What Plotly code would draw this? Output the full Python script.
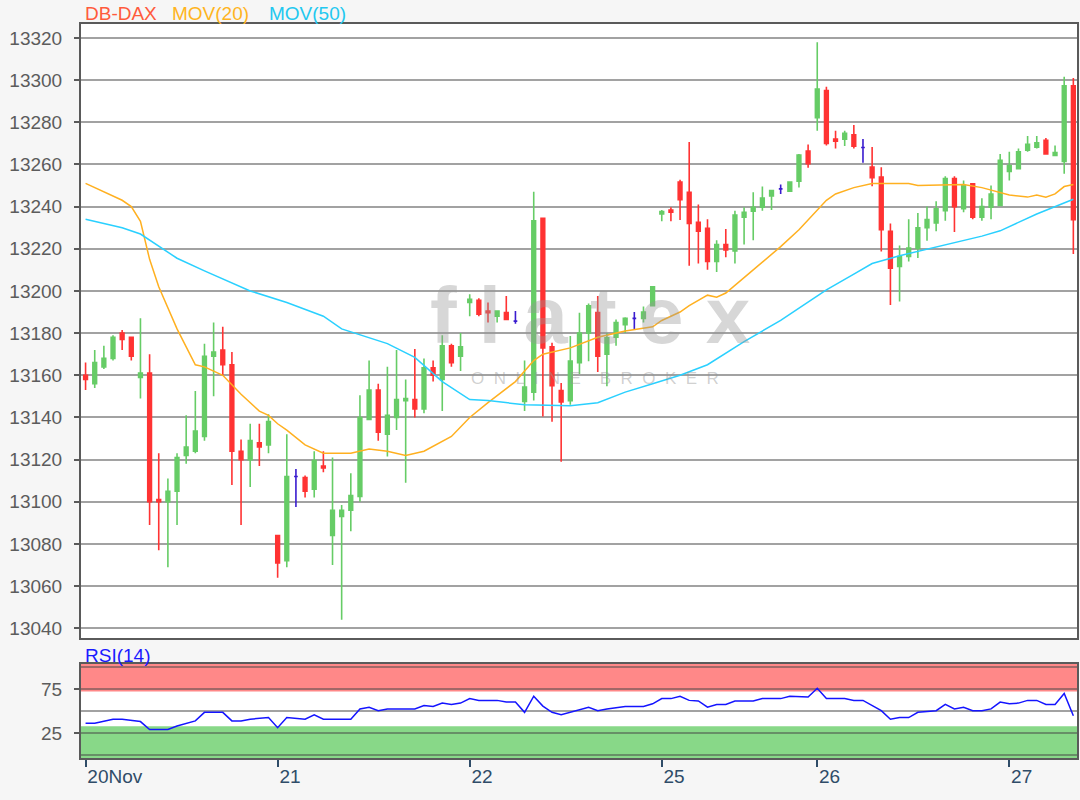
import plotly.graph_objects as go

# ---------------- data ----------------
bar_index = list(range(109))

opens = [13160, 13156, 13164, 13168, 13180, 13178, 13159, 13161, 13101, 13100,
         13105, 13122, 13124, 13131, 13169, 13172, 13165, 13124, 13120, 13128,
         13127, 13084, 13072, 13112, 13111.5, 13106, 13117, 13084, 13093, 13096,
         13102.5, 13139, 13153, 13132, 13140, 13148, 13148.5, 13144, 13163.5, 13158,
         13174, 13169, 13194.5, 13195.6, 13190.5, 13188, 13189.7, 13185.7, 13147.6, 13152,
         13234.4, 13173.5, 13152.7, 13148, 13166, 13180, 13189.7, 13170, 13178, 13184,
         13187, 13187, 13193, 13236.5, 13238.4, 13251.6, 13246.8, 13232.5, 13229.7, 13214,
         13222, 13219, 13235, 13237.8, 13239.7, 13245, 13248.4, 13247.3, 13252, 13266.3,
         13282.2, 13295, 13272, 13272, 13274, 13268, 13258.7, 13254, 13228.3, 13211.6,
         13216.3, 13220.3, 13230, 13232.2, 13238, 13253.3, 13239, 13250.8, 13235, 13239.7,
         13240.5, 13256.7, 13258, 13266.7, 13268.2, 13271.4, 13264.3, 13261.4, 13297.3]
highs = [13166, 13172, 13174, 13179, 13181.5, 13178, 13187, 13170, 13123, 13111,
         13123, 13141, 13152.5, 13175, 13185, 13183, 13171, 13129.5, 13137, 13137,
         13141.5, 13084, 13132, 13115.5, 13112.5, 13124, 13124, 13121, 13098.5, 13113.5,
         13150.5, 13167, 13156, 13164, 13172, 13158, 13172.5, 13168, 13167, 13179,
         13175, 13180, 13198.4, 13196.5, 13194.5, 13190.5, 13197.6, 13190.5, 13167, 13247,
         13234.4, 13175.4, 13156.3, 13178.6, 13189.7, 13194, 13197.6, 13180, 13186.5, 13187.5,
         13190, 13192.6, 13202, 13238.4, 13239.7, 13252.7, 13270.6, 13241, 13234, 13224,
         13229.4, 13238, 13239.7, 13246.8, 13249.5, 13247.6, 13250.5, 13252, 13265, 13269.5,
         13318, 13296.8, 13276, 13276, 13278.7, 13272, 13268.3, 13258.7, 13232, 13221.6,
         13234, 13237, 13240, 13242.5, 13254.4, 13254.4, 13252.4, 13250.8, 13244, 13250,
         13265, 13266, 13267.5, 13273.5, 13273.5, 13272.5, 13269, 13301.6, 13301]
lows = [13153, 13154, 13163, 13167, 13172, 13167, 13149, 13089, 13077, 13069,
        13089, 13118, 13123, 13129, 13150, 13160, 13108, 13089, 13107, 13117,
        13123, 13064, 13069, 13097.5, 13102, 13102, 13114, 13070, 13044, 13086,
        13100, 13139, 13129, 13121.5, 13134, 13109, 13140, 13142, 13157, 13143,
        13164, 13162, 13188, 13188, 13185, 13185, 13186.5, 13184.4, 13143, 13148,
        13140.5, 13138, 13119, 13146, 13160.6, 13166.7, 13161.6, 13154.8, 13174, 13180,
        13181.5, 13185, 13193, 13233, 13233, 13233.7, 13212, 13213, 13210, 13209,
        13216, 13213, 13222, 13224, 13238, 13238.4, 13246, 13247, 13249, 13258.4,
        13276, 13269, 13267.6, 13268.7, 13267.6, 13260.8, 13249.7, 13218.7, 13193.3, 13195,
        13214, 13215.6, 13223.8, 13228.3, 13233.3, 13228, 13237.3, 13234, 13233.3, 13234,
        13240.5, 13252.4, 13257.6, 13266, 13267.5, 13264.6, 13264.3, 13255.6, 13217.5]
closes = [13158, 13166, 13168, 13178, 13177, 13169, 13161, 13100, 13100, 13105,
          13121, 13126, 13133.5, 13169, 13171, 13165, 13124, 13120, 13129, 13126,
          13138, 13071, 13112, 13112, 13105, 13119.5, 13116, 13096, 13096, 13103,
          13140, 13153, 13133, 13141, 13148.5, 13149, 13144, 13163.5, 13160, 13174,
          13166, 13173.5, 13196, 13189, 13189.7, 13190.5, 13186.5, 13185.7, 13154.4, 13233.3,
          13173, 13155, 13147.3, 13166.7, 13180, 13193, 13169, 13177.8, 13185, 13187,
          13187, 13190, 13202, 13237.6, 13237.3, 13243.3, 13232, 13228.3, 13214, 13222,
          13219.4, 13236, 13237.3, 13239.7, 13244, 13247.6, 13248.4, 13251.6, 13264.4, 13260.3,
          13295.7, 13270, 13271, 13274.8, 13268.7, 13268, 13253.7, 13229, 13210.8, 13216.3,
          13220.3, 13230, 13233.8, 13239, 13253.3, 13240, 13250, 13235, 13240, 13246,
          13262, 13259.5, 13266, 13269.5, 13270.3, 13265, 13265.6, 13297.3, 13233.8]

ma20_x = [0, 4, 5, 6, 7, 8, 10, 12, 13, 15, 17, 19, 20, 21, 22, 24, 26, 29, 31, 33,
          35, 37, 40, 42, 44, 47, 49, 50, 53, 56, 59, 62, 63, 65, 66, 68, 69, 70, 73, 76,
          78, 81, 82, 84, 86, 90, 91, 96, 98, 101, 103, 104, 105, 106, 107, 108]
ma20_y = [13251, 13243, 13240, 13233, 13215, 13202, 13182, 13165, 13164, 13160,
          13151, 13143, 13141, 13137, 13134, 13127, 13123, 13123, 13125, 13124,
          13122, 13124, 13131, 13140, 13147, 13157, 13167, 13170, 13173, 13178,
          13181, 13183, 13186, 13190, 13193, 13198, 13197, 13199, 13210, 13221,
          13229, 13243, 13246, 13249, 13251, 13251, 13250, 13250.5, 13249, 13245.5,
          13244.5, 13245.5, 13244.5, 13246, 13249.5, 13250.5]

ma50_x = [0, 4, 6, 10, 13, 18, 22, 26, 28, 33, 36, 39, 42, 44, 48, 53, 56, 59, 62,
          65, 68, 72, 76, 81, 84, 86, 89, 94, 98, 100, 104, 108]
ma50_y = [13234, 13230, 13227, 13215.5, 13209.5, 13200, 13194.5, 13188, 13182,
          13175, 13168.5, 13157, 13148.5, 13148, 13146, 13145.5, 13147, 13152, 13156,
          13160, 13165, 13176, 13186, 13200.5, 13208, 13213, 13216.7, 13222, 13226,
          13228.5, 13236.5, 13243.5]

rsi_x = [0, 1, 3, 4, 6, 7, 9, 10, 12, 13, 15, 16, 17, 18, 20, 21, 22, 23, 24, 25,
         26, 29, 30, 31, 32, 33, 36, 37, 38, 39, 40, 41, 42, 43, 45, 46, 47, 48, 49, 50,
         51, 52, 53, 55, 56, 57, 59, 61, 62, 63, 64, 65, 66, 67, 68, 69, 70, 71, 73, 74,
         76, 77, 79, 80, 81, 83, 84, 85, 87, 88, 89, 90, 91, 93, 94, 95, 96, 97, 98, 99,
         100, 101, 102, 103, 104, 105, 106, 107, 108]
rsi_y = [36.4, 36.4, 41.1, 41.1, 38.4, 29.4, 29.4, 33.3, 39.2, 48.9, 48.9, 39.2, 39.2,
         41.1, 43, 31.4, 43, 42.3, 41.1, 46.2, 41.1, 41.1, 52.8, 54.7, 50.8, 52.8, 52.8,
         56.7, 55.5, 59.4, 57.9, 59.4, 64.5, 62.5, 62.5, 60.6, 60.6, 48.9, 67.2, 56,
         48.9, 46.2, 48.9, 54.7, 50.8, 52.8, 55.5, 55.5, 58.6, 64.5, 64.5, 67.2, 62.5,
         61.8, 54.7, 57.9, 57.9, 61.8, 61.8, 64.5, 64.5, 67.2, 66.4, 76.2, 64.5, 64.5,
         62.5, 62.5, 50.8, 41.1, 43, 43, 48.9, 50.8, 57.9, 52.8, 54.7, 50.8, 50.8, 52.8,
         60.6, 58.6, 59.4, 62.5, 62.5, 57.9, 57.9, 70.3, 45]

day_ticks = [0, 21, 42, 63, 80, 101]
day_labels = ["20Nov", "21", "22", "25", "26", "27"]
price_ticks = [13040, 13060, 13080, 13100, 13120, 13140, 13160, 13180,
               13200, 13220, 13240, 13260, 13280, 13300, 13320]
price_labels = [str(v) for v in price_ticks]
rsi_ticks = [25, 75]
rsi_labels = ["25", "75"]
rsi_grid = [0, 50, 100]

# ---------------- styles ----------------
GREEN = "#66cc66"
RED = "#ff3333"
DOJI = "#3a1ccf"
ORANGE = "#ffb020"
CYAN = "#2ad0ff"
BLUE = "#1414ff"
GRID = "rgba(70,70,70,0.5)"
FRAME = "#5a5a5a"
FONT = "Liberation Sans, Arial, sans-serif"

doji = [o == c for o, c in zip(opens, closes)]
reg = [i for i in bar_index if not doji[i]]
dj = [i for i in bar_index if doji[i]]

fig = go.Figure()
fig.add_trace(go.Candlestick(
    x=reg, open=[opens[i] for i in reg], high=[highs[i] for i in reg],
    low=[lows[i] for i in reg], close=[closes[i] for i in reg],
    increasing=dict(line=dict(color=GREEN, width=1.6), fillcolor=GREEN),
    decreasing=dict(line=dict(color=RED, width=1.6), fillcolor=RED),
    whiskerwidth=0, xaxis="x", yaxis="y", showlegend=False))
fig.add_trace(go.Candlestick(
    x=dj, open=[opens[i] for i in dj], high=[highs[i] for i in dj],
    low=[lows[i] for i in dj], close=[closes[i] for i in dj],
    increasing=dict(line=dict(color=DOJI, width=1.6), fillcolor=DOJI),
    decreasing=dict(line=dict(color=DOJI, width=1.6), fillcolor=DOJI),
    whiskerwidth=0, xaxis="x", yaxis="y", showlegend=False))
fig.add_trace(go.Scatter(x=ma20_x, y=ma20_y, mode="lines",
                         line=dict(color=ORANGE, width=1.5), xaxis="x", yaxis="y"))
fig.add_trace(go.Scatter(x=ma50_x, y=ma50_y, mode="lines",
                         line=dict(color=CYAN, width=1.5), xaxis="x", yaxis="y"))
fig.add_trace(go.Scatter(x=rsi_x, y=rsi_y, mode="lines",
                         line=dict(color=BLUE, width=1.5), xaxis="x2", yaxis="y2"))

# plot area spans y = 24 .. 758 px, x = 81 .. 1077 px
XR = [-0.5, 108.4]
RSI_RANGE = [-3, 103.8]
fig.update_layout(
    width=1080, height=800,
    margin=dict(l=81, r=3, t=24, b=42, autoexpand=False),
    paper_bgcolor="#f6f6f6", plot_bgcolor="white",
    showlegend=False, boxgap=0.42,
    font=dict(family=FONT),
    xaxis=dict(domain=[0, 1], anchor="y", range=XR, showticklabels=False,
               showgrid=False, zeroline=False, ticks="", automargin=False,
               rangeslider=dict(visible=False),
               showline=True, mirror=True, linecolor=FRAME, linewidth=2),
    yaxis=dict(domain=[0.1635, 1], anchor="x", range=[13035.4, 13326.6],
               tickvals=price_ticks, ticktext=price_labels, automargin=False,
               ticks="outside", ticklen=5, tickcolor=FRAME,
               tickwidth=1.5, ticklabelstandoff=8,
               showgrid=True, gridcolor=GRID, gridwidth=1.5, zeroline=False,
               showline=True, mirror=True, linecolor=FRAME, linewidth=2,
               tickfont=dict(family=FONT, size=19, color="#5c5c5c")),
    xaxis2=dict(domain=[0, 1], anchor="y2", range=XR, matches="x",
                tickvals=day_ticks, ticktext=day_labels, automargin=False,
                ticks="outside", ticklen=7, tickwidth=1.5, tickcolor="#2f4c68",
                ticklabelposition="outside right",
                tickfont=dict(family=FONT, size=19, color="#2f4c68"),
                showgrid=False, zeroline=False,
                rangeslider=dict(visible=False),
                showline=True, mirror=True, linecolor=FRAME, linewidth=2),
    yaxis2=dict(domain=[0, 0.128], anchor="x2", range=RSI_RANGE,
                tickvals=rsi_ticks, ticktext=rsi_labels, automargin=False,
                ticks="outside", ticklen=5, tickwidth=1.5,
                tickcolor=FRAME, ticklabelstandoff=8,
                showgrid=True, gridcolor=GRID, gridwidth=1.5, zeroline=False,
                minor=dict(tickvals=rsi_grid, showgrid=True, gridcolor=GRID,
                           gridwidth=1.5, ticks=""),
                showline=True, mirror=True, linecolor=FRAME, linewidth=2,
                tickfont=dict(family=FONT, size=19, color="#5c5c5c")),
)

# RSI zones
fig.add_shape(type="rect", xref="x2 domain", yref="y2", x0=0, x1=1,
              y0=72.7, y1=RSI_RANGE[1],
              fillcolor="#ff8888", line=dict(width=0), layer="below")
fig.add_shape(type="rect", xref="x2 domain", yref="y2", x0=0, x1=1,
              y0=RSI_RANGE[0], y1=33,
              fillcolor="#88d888", line=dict(width=0), layer="below")

# header texts
def paper_x(px):
    return (px - 81) / 996.0

def paper_y(py):
    return (758 - py) / 734.0

for txt, px, col in [("DB-DAX", 82.5, "#ff5a3c"), ("MOV(20)", 170, "#ffb41e"),
                     ("MOV(50)", 267, "#22c8f0")]:
    fig.add_annotation(text=txt, xref="paper", yref="paper", x=paper_x(px), y=paper_y(13),
                       xanchor="left", yanchor="middle", showarrow=False,
                       font=dict(family=FONT, size=19, color=col))
fig.add_annotation(text="RSI(14)", xref="paper", yref="paper", x=paper_x(82.5),
                   y=paper_y(655), xanchor="left", yanchor="middle", showarrow=False,
                   font=dict(family=FONT, size=19, color="#1a1aff"))

# watermark
fig.add_annotation(text="f l a t e x", xref="paper", yref="paper", x=paper_x(590),
                   y=paper_y(315), xanchor="center", yanchor="middle", showarrow=False,
                   font=dict(family=FONT, size=80, color="rgba(150,150,150,0.38)",
                             weight="bold"))
fig.add_annotation(text="O  N  L  I  N  E    B  R  O  K  E  R", xref="paper", yref="paper",
                   x=paper_x(595), y=paper_y(378), xanchor="center", yanchor="middle",
                   showarrow=False,
                   font=dict(family=FONT, size=17, color="rgba(150,150,150,0.45)"))

fig.write_html("out.html", config={"displayModeBar": False},
               post_script="document.body.style.margin='0';document.body.style.padding='0';")
